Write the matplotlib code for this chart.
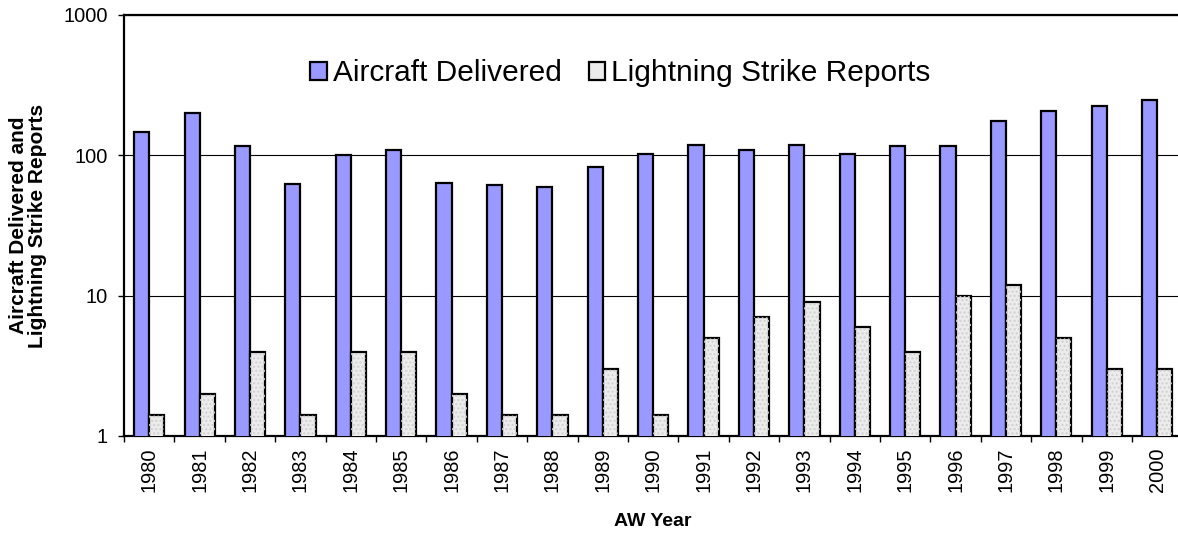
import matplotlib
matplotlib.use("Agg")
import matplotlib.pyplot as plt
import numpy as np

years = [str(y) for y in range(1980, 2001)]
aircraft_delivered = [147, 200, 116, 62, 100, 110, 64, 61, 59, 82, 102,
                      118, 110, 119, 102, 116, 117, 177, 207, 224, 247]
lightning_reports = [1.4, 2, 4, 1.4, 4, 4, 2, 1.4, 1.4, 3, 1.4,
                     5, 7, 9, 6, 4, 10, 12, 5, 3, 3]
y_ticks = [1, 10, 100, 1000]

plt.rcParams["font.family"] = ["Liberation Sans", "DejaVu Sans"]

fig = plt.figure(figsize=(11.78, 5.33), dpi=100)
ax = fig.add_axes([0.1053, 0.182, 0.8984, 0.7899])

x = np.arange(len(years))
width = 0.3
ax.bar(x - width / 2, aircraft_delivered, width, color="#9999ff",
       edgecolor="black", linewidth=1.6, label="Aircraft Delivered", zorder=3)
ax.bar(x + width / 2, lightning_reports, width, color="#ececec",
       edgecolor="black", linewidth=1.6, label="Lightning Strike Reports", zorder=3)
# faint dotted fill like the original pattern
ax.bar(x + width / 2, lightning_reports, width, fill=False, hatch="....",
       edgecolor="#d0d0d0", linewidth=0, zorder=3.5)

ax.set_yscale("log")
ax.set_ylim(1, 1000)
ax.set_xlim(-0.5, len(years) - 0.5)
ax.set_yticks(y_ticks)
ax.set_yticklabels([str(v) for v in y_ticks])
ax.yaxis.set_minor_locator(matplotlib.ticker.NullLocator())
ax.grid(axis="y", color="black", linewidth=0.8, zorder=0)

ax.set_xticks(x)
ax.set_xticklabels(years, rotation=90)
ax.set_xticks(np.arange(len(years) + 1) - 0.5, minor=True)
ax.tick_params(axis="x", which="major", length=0, pad=8, labelsize=14.4)
ax.tick_params(axis="x", which="minor", length=4.5, width=1, direction="out")
ax.tick_params(axis="y", length=4.5, width=1, pad=7, labelsize=14.4)

for side in ["left", "bottom", "top"]:
    ax.spines[side].set_linewidth(1.6)
ax.spines["right"].set_visible(False)

ax.set_xlabel("AW Year", fontsize=14, fontweight="bold", labelpad=15)
ax.set_ylabel("Aircraft Delivered and\nLightning Strike Reports",
              fontsize=15, fontweight="bold", labelpad=12, linespacing=1.0)

ax.legend(loc="center", bbox_to_anchor=(0.469, 0.862), ncol=2,
          frameon=False, fontsize=21.5, handlelength=0.55, handleheight=0.55,
          handletextpad=0.2, columnspacing=0.9)

fig.savefig("out.png", dpi=100)
